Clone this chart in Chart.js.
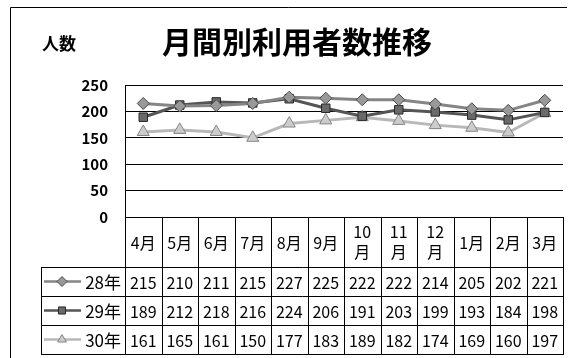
<!DOCTYPE html>
<html><head><meta charset="utf-8">
<script src="https://cdn.jsdelivr.net/npm/chart.js@4/dist/chart.umd.min.js"></script>
<style>html,body{margin:0;padding:0;background:#fff}</style>
</head><body>
<canvas id="c" width="571" height="358"></canvas>
<script>
const months = ['4月','5月','6月','7月','8月','9月','10月','11月','12月','1月','2月','3月'];
const seriesNames = ['28年','29年','30年'];
const values28 = [215,210,211,215,227,225,222,222,214,205,202,221];
const values29 = [189,212,218,216,224,206,191,203,199,193,184,198];
const values30 = [161,165,161,150,177,183,189,182,174,169,160,197];
const yTicks = [0,50,100,150,200,250];
const chartTitle = '月間別利用者数推移';
const yTitle = '人数';

const FONT = '"Noto Sans CJK JP", "Noto Sans", sans-serif';

const styles = [
  {line:'#858585', fill:'#999999', edge:'#4a4a4a', point:'rectRot', r:6},
  {line:'#555555', fill:'#6a6a6a', edge:'#2a2a2a', point:'rect', r:6},
  {line:'#b8b8b8', fill:'#cccccc', edge:'#858585', point:'triangle', r:7}
];
const allValues = [values28, values29, values30];

const framePlugin = {
  id: 'frame',
  afterDraw(chart) {
    const ctx = chart.ctx, a = chart.chartArea, xs = chart.scales.x;
    ctx.save();
    ctx.strokeStyle = '#000'; ctx.lineWidth = 1;
    ctx.beginPath();
    ctx.moveTo(10.5, 358); ctx.lineTo(10.5, 7.5); ctx.lineTo(567, 7.5);
    ctx.stroke();
    ctx.fillStyle = '#000';
    ctx.textBaseline = 'middle';
    ctx.textAlign = 'center';
    ctx.font = 'bold 30px ' + FONT;
    ctx.fillText(chartTitle, 297, 42);
    ctx.font = 'bold 17px ' + FONT;
    ctx.textAlign = 'left';
    ctx.fillText(yTitle, 42, 44);

    const n = months.length;
    const bounds = [a.left];
    for (let i = 0; i < n - 1; i++) bounds.push((xs.getPixelForValue(i) + xs.getPixelForValue(i + 1)) / 2);
    bounds.push(a.right);
    const top = a.bottom, hdrBottom = a.bottom + 50, rowH = 29;
    const tableBottom = hdrBottom + rowH * 3;
    const legendLeft = 41;
    ctx.strokeStyle = '#000'; ctx.lineWidth = 1;
    ctx.beginPath();
    bounds.forEach(b => { const x = Math.round(b) + 0.5; ctx.moveTo(x, top); ctx.lineTo(x, tableBottom); });
    ctx.moveTo(legendLeft + 0.5, hdrBottom); ctx.lineTo(legendLeft + 0.5, tableBottom);
    for (let r = 0; r <= 3; r++) {
      const y = Math.round(hdrBottom + r * rowH) + 0.5;
      ctx.moveTo(legendLeft, y); ctx.lineTo(Math.round(a.right) + 1, y);
    }
    ctx.stroke();

    ctx.fillStyle = '#000';
    ctx.textAlign = 'center';
    ctx.font = '16px ' + FONT;
    for (let i = 0; i < n; i++) {
      const cx = xs.getPixelForValue(i);
      const w = bounds[i + 1] - bounds[i];
      const lbl = months[i];
      if (ctx.measureText(lbl).width > w - 6) {
        ctx.fillText(lbl.slice(0, -1), cx, top + 15);
        ctx.fillText(lbl.slice(-1), cx, top + 35);
      } else {
        ctx.fillText(lbl, cx, top + 26);
      }
      allValues.forEach((vals, r) => {
        ctx.fillText(String(vals[i]), cx, hdrBottom + rowH * r + rowH / 2 + 1);
      });
    }
    seriesNames.forEach((name, r) => {
      const cy = hdrBottom + rowH * r + rowH / 2;
      const st = styles[r];
      ctx.strokeStyle = st.line; ctx.lineWidth = 2.5;
      ctx.beginPath(); ctx.moveTo(44, cy); ctx.lineTo(81, cy); ctx.stroke();
      ctx.fillStyle = st.fill; ctx.strokeStyle = st.edge; ctx.lineWidth = 1;
      Chart.helpers.drawPoint(ctx, {pointStyle: st.point, radius: 5, borderWidth: 1, rotation: 0}, 62, cy);
      ctx.fillStyle = '#000';
      ctx.textAlign = 'right';
      ctx.font = '17px ' + FONT;
      ctx.fillText(name, 121, cy + 1);
    });
    ctx.restore();
  }
};

new Chart(document.getElementById('c'), {
  type: 'line',
  data: {
    labels: months,
    datasets: allValues.map((vals, k) => ({
      label: seriesNames[k],
      data: vals,
      borderColor: styles[k].line,
      borderWidth: 3,
      pointStyle: styles[k].point,
      pointRadius: styles[k].r,
      pointBackgroundColor: styles[k].fill,
      pointBorderColor: styles[k].edge,
      pointBorderWidth: 1,
      tension: 0,
      fill: false
    }))
  },
  options: {
    responsive: false,
    devicePixelRatio: 1,
    animation: false,
    events: [],
    layout: {padding: {left: 0, top: 85, right: 7, bottom: 141}},
    plugins: {legend: {display: false}, title: {display: false}, tooltip: {enabled: false}},
    scales: {
      x: {display: false, offset: true},
      y: {
        min: 0, max: 250,
        afterBuildTicks(s) { s.ticks = yTicks.map(v => ({value: v})); },
        afterFit(s) { s.width = 125; },
        ticks: {color: '#000', padding: 17, font: {family: FONT, size: 15, weight: 'bold'}},
        grid: {color: '#000', lineWidth: 1, drawTicks: false},
        border: {color: '#000', width: 1}
      }
    }
  },
  plugins: [framePlugin]
});
</script>
</body></html>
